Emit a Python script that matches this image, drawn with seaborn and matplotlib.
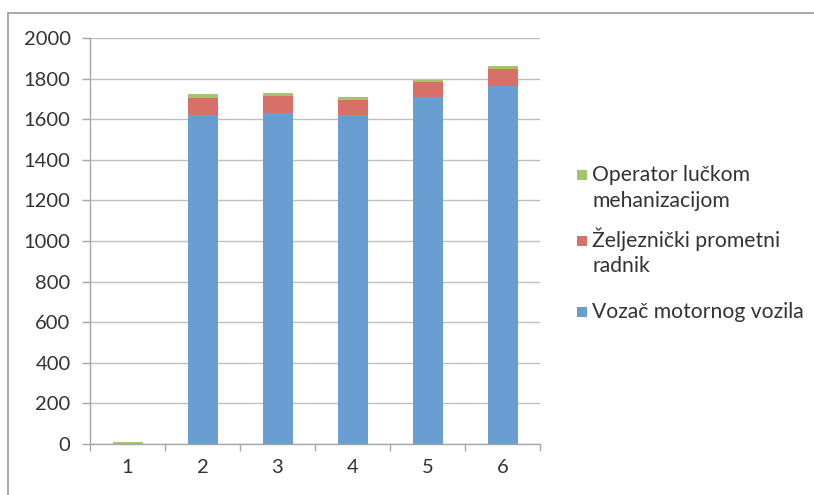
import matplotlib
matplotlib.use("Agg")
import matplotlib.pyplot as plt
from matplotlib.patches import Rectangle
from matplotlib.lines import Line2D
import numpy as np
import pandas as pd
import seaborn as sns

# Data
categories = ["1", "2", "3", "4", "5", "6"]
vozac = [0, 1620, 1630, 1620, 1710, 1765]
zeljeznicki = [0, 85, 85, 75, 75, 80]
operator = [8, 20, 12, 13, 10, 15]

series_labels = [["Operator lučkom", "mehanizacijom"],
                 ["Željeznički prometni", "radnik"],
                 ["Vozač motornog vozila"]]
colors = ["#A3C56C", "#D8706A", "#6A9ED2"]

sns.set_theme(style="white")
plt.rcParams["font.family"] = ["Lato", "DejaVu Sans"]

W, H = 814, 495
df = pd.DataFrame({"cat": categories, "vozac": vozac,
                   "zelj": zeljeznicki, "oper": operator})
df["lvl2"] = df["vozac"] + df["zelj"]
df["lvl3"] = df["lvl2"] + df["oper"]

fig = plt.figure(figsize=(W / 100, H / 100), dpi=100)
ax = fig.add_axes([90 / W, 1 - 444 / H, 450 / W, 406 / H])

# stacked bars drawn as overlapping cumulative totals
for col, c in zip(["lvl3", "lvl2", "vozac"], colors):
    sns.barplot(data=df, x="cat", y=col, color=c, width=0.4, ax=ax,
                saturation=1, linewidth=0, zorder=3)

ax.set_xlim(-0.5, 5.5)
ax.set_ylim(0, 2000)
ax.set_yticks(np.arange(0, 2001, 200))
ax.set_xlabel("")
ax.set_ylabel("")
ax.yaxis.grid(True, color="#BFBFBF", linewidth=1.0, zorder=0)
ax.set_axisbelow(True)

for s in ["top", "right"]:
    ax.spines[s].set_visible(False)
for s in ["left", "bottom"]:
    ax.spines[s].set_color("#A6A6A6")
    ax.spines[s].set_linewidth(1.0)

ax.tick_params(axis="y", which="major", length=6, width=1, color="#A6A6A6",
               direction="out", pad=8, labelsize=14.5, labelcolor="#333333", left=True)
ax.set_xticks(np.arange(-0.5, 5.6, 1), minor=True)
ax.tick_params(axis="x", which="minor", length=5, width=1, color="#A6A6A6",
               direction="out", bottom=True)
ax.tick_params(axis="x", which="major", length=0, pad=11, labelsize=14.5,
               labelcolor="#333333")

# legend: square swatch next to the first line of each entry
line_baselines = [[181, 207], [247, 272], [318]]
for lines, baselines, c in zip(series_labels, line_baselines, colors):
    fig.add_artist(Rectangle((577 / W, 1 - (baselines[0] - 1) / H), 10 / W, 10 / H,
                             transform=fig.transFigure, facecolor=c,
                             edgecolor="none"))
    for text, yb in zip(lines, baselines):
        fig.text(592 / W, 1 - yb / H, text, fontsize=15.2, color="#333333",
                 ha="left", va="baseline")

# outer chart frame
fig.add_artist(Line2D([7.5 / W, 7.5 / W], [0, 1 - 13 / H],
                      transform=fig.transFigure, color="#A0A0A0", linewidth=1.3))
fig.add_artist(Line2D([7.5 / W, 1], [1 - 13 / H, 1 - 13 / H],
                      transform=fig.transFigure, color="#A0A0A0", linewidth=1.3))

fig.savefig("out.png", dpi=100)
